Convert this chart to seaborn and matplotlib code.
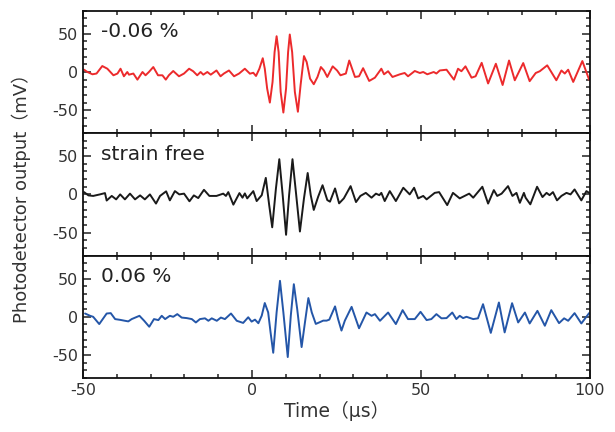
import numpy as np
import pandas as pd
import seaborn as sns
import matplotlib
matplotlib.use("Agg")
import matplotlib.pyplot as plt
from matplotlib.ticker import MultipleLocator

# strain -0.06 % (red)
t_neg = [-49.7, -48.7, -47.2, -46.0, -44.3, -42.8, -41.0, -39.8, -38.9, -37.9, -36.9, -36.4, -35.1, -33.9,
         -32.4, -31.5, -30.5, -29.2, -27.8, -26.5, -25.5, -24.6, -23.3, -21.6, -20.1, -18.6, -17.4, -16.2,
         -15.2, -14.4, -13.2, -12.2, -10.5, -9.3, -8.3, -6.8, -5.3, -3.8, -2.1, -0.6, 0.4, 1.2, 2.2, 3.2,
         3.8, 4.5, 5.3, 6.1, 6.7, 7.3, 7.9, 8.5, 9.3, 10.1, 10.7, 11.2, 11.9, 12.7, 13.6, 14.4, 15.4,
         16.2, 17.2, 18.3, 19.4, 20.4, 21.3, 22.3, 23.9, 25.2, 26.2, 27.8, 28.8, 30.5, 31.7, 32.9, 34.7,
         36.4, 38.3, 39.1, 40.3, 41.6, 43.8, 45.2, 46.2, 48.2, 49.7, 50.7, 51.9, 53.8, 54.6, 55.6, 57.6,
         59.8, 61.0, 62.0, 63.2, 65.0, 66.2, 68.0, 69.9, 72.2, 74.2, 76.1, 77.8, 80.3, 82.2, 84.0, 85.2,
         87.4, 90.1, 91.6, 92.6, 93.6, 95.1, 97.8, 99.8]
v_neg = [3, 0, -3, -2, 7.8, 4.3, -4.3, -2, 4.3, -5.6, 0, -3.5, -2, -10,
         0, -4.3, 0, 6.5, -4.3, -4.3, -10, -4.3, 1.3, -5.6, -2, 4.3, 1, -4.3,
         0, -3.5, 0, -3.5, 2, -5.6, -2, 2, -5.6, -2, 4.3, -2.2, -1, -5.2, 4.3, 18,
         4.3, -21.6, -40, -13, 26, 46.8, 26, -26, -53, -21.6, 26, 49, 26, -26, -52, -17, 20.8,
         13, -8.7, -16, -6.5, 6.5, 2, -6.5, 7.4, 2, -4.3, -2, 15, -6.5, -5.6, 5, -11.7,
         -7.4, 4.3, -3, 1, -6.5, -3, -1.3, -5.6, 1.3, -1.3, 0, -3, 0, -2, 2, 3,
         -10, 4.3, 1, 7.4, -7.4, -5.6, 12, -15, 10.8, -17, 15, -10.8, 11.7, -12, -1.3, 1,
         8.7, -10.8, 2, -2, 3, -13, 14.3, -10]

# strain free (black)
t_free = [-49.7, -48.4, -47.0, -45.0, -43.5, -43.0, -41.5, -40.2, -39.0, -37.6, -36.1, -34.6, -33.1, -31.7,
          -30.2, -28.4, -27.2, -25.4, -24.3, -22.8, -21.5, -20.1, -18.5, -17.2, -15.9, -14.2, -12.6, -10.5,
          -8.5, -7.7, -7.0, -5.5, -3.7, -2.8, -2.1, -1.4, -0.6, 0.4, 1.4, 2.9, 4.1, 5.1, 6.0, 7.1, 8.1,
          9.1, 10.1, 11.0, 12.0, 13.0, 14.2, 15.4, 16.5, 17.4, 18.3, 19.6, 20.9, 22.3, 23.1, 24.6, 25.8,
          27.2, 29.2, 30.8, 32.1, 33.7, 35.4, 36.7, 37.7, 38.3, 39.3,
          40.8, 42.6, 44.8, 46.7, 48.0, 49.2, 50.7, 51.7, 54.1, 55.4, 57.8, 59.5, 61.5, 64.3, 65.5, 68.2,
          69.9, 71.6, 72.6, 73.9, 75.8, 77.1, 78.3, 79.3, 80.5, 81.0, 82.4, 84.4, 86.0, 87.2, 88.1, 89.1,
          90.3, 91.6, 93.1, 94.3, 95.5, 97.5, 99.0, 99.8]
v_free = [3, -1.3, -2, 0, 1.7, -8, -2, -6.5, 0, -6.5, 1, -6.5, -1.3, -6.5,
          0, -12, -2, 4, -7.8, 4.3, 0, 1, -9, -1.3, -4.8, 6, -2, -2,
          1, -2, 3, -13.4, 1.7, -4.3, 1.3, -5.2, -1, 4.3, -8.7, -1, 21.6, -13.9, -43, 7.8, 46,
          -1, -52.8, -1, 46, 3.5, -48.5, -5.2, 28, -1, -20.3, -3, 12, -7.4, -9.5, 7.8, -11.7,
          -5.2, 10.8, -10, -2, 2, -4.3, 1, -1, 2, -8.7,
          4.3, -8.7, 8.7, 0, 8.7, -5.2, -2, -6.5, 2, 3, -14, 2, -5.2, 1, -4.3, 10,
          -12, 5.6, -2, 1, 10.8, -2, 2, -11, 2, -4.3, -13, 10, -3.5, 2, -1, 3,
          -7.8, -2, 2, 0, 6.5, -7.8, 4.3, 2]

# strain 0.06 % (blue)
t_pos = [-49.4, -47.9, -47.0, -45.2, -43.0, -41.8, -40.5, -39.0, -37.6, -36.6, -35.6, -33.3, -31.9, -30.4,
         -29.0, -27.7, -26.7, -25.7, -24.3, -23.3, -22.1, -20.8, -19.3, -17.8, -16.6, -15.4, -13.9, -12.9,
         -11.9, -10.4, -9.2, -8.0, -6.2, -4.5, -2.6, -1.1, -0.1, 0.9, 1.9, 2.9, 3.8, 4.8, 5.5, 6.3, 7.3,
         8.3, 9.3, 10.6, 11.5, 12.4, 13.4, 14.7, 15.7, 16.7, 17.7, 18.9, 20.1, 21.1, 22.1, 22.9, 24.6,
         25.5, 26.5, 27.5, 29.5, 31.7, 33.9, 35.4, 36.4, 37.9, 40.3, 42.6, 44.6,
         46.2, 48.2, 49.9, 51.7, 53.1, 54.6, 56.1, 57.6, 59.3, 60.5, 61.5, 62.5, 63.5, 65.5, 66.9, 68.4,
         70.7, 73.1, 74.8, 77.0, 78.8, 80.8, 82.2, 84.5, 86.7, 88.6, 90.9, 92.4, 93.6, 95.5, 97.5, 99.8]
v_pos = [4.3, 1.3, 0, -9.5, 4.3, 4.8, -3, -4, -5.2, -6, -3, 1.3, -5.2, -13,
         -3, -4.3, 1.3, -3, 1.3, 0, 3.5, -1, -1.7, -3, -7.4, -3, -2, -5.2,
         -2, -5.2, -1, -3, 4.3, -5.2, -8, -0.6, -6.3, -3.7, -8.4, 1.5, 18, 5.8, -20, -47, 5.8,
         47, 5.8, -52.6, 1.5, 42.6, 10, -39.6, -7, 24.5, 5.8, -9.3, -7, -5, -5, -3.7, 13.6,
         -3, -18, -5, 13, -15, 5.6, 1.3, 3.5, -5.2, 5.6, -9.5, 8.7,
         -3, -3, 6.5, -4.3, -3, 3.5, -2, -1.7, 5.6, -3, 1.3, -1.7, 0, -3, -2, 16.5,
         -21, 18.7, -20.4, 17.8, -7.4, 5.6, -8.7, 7.8, -11.7, 8.7, -8.3, -2, -5.2, 4.8, -8.7, 4.8]

labels = ["-0.06 %", "strain free", "0.06 %"]
colors = ["#ec2a2c", "#1a1a1a", "#2456a8"]
series = [(t_neg, v_neg), (t_free, v_free), (t_pos, v_pos)]

sns.set_theme(style="ticks")
plt.rcParams['font.family'] = ['DejaVu Sans', 'Noto Sans CJK JP']
plt.rcParams['axes.unicode_minus'] = False

fig, axes = plt.subplots(3, 1, figsize=(6.15, 4.32), dpi=100, sharex=True)
fig.subplots_adjust(left=0.135, right=0.959, top=0.975, bottom=0.125, hspace=0)

for ax, (t, v), lab, col in zip(axes, series, labels, colors):
    df = pd.DataFrame({'time': t, 'mV': v})
    sns.lineplot(data=df, x='time', y='mV', ax=ax, color=col, lw=1.4, estimator=None)
    ax.set_xlim(-50, 100)
    ax.set_ylim(-80, 80)
    ax.set_yticks([-50, 0, 50])
    ax.yaxis.set_minor_locator(MultipleLocator(10))
    ax.xaxis.set_major_locator(MultipleLocator(50))
    ax.xaxis.set_minor_locator(MultipleLocator(10))
    ax.tick_params(which='both', direction='in', top=True, right=True, width=1.1, colors='#222222',
                   labelsize=11.5, labelcolor='#333333')
    ax.tick_params(which='major', length=6)
    ax.tick_params(which='minor', length=3)
    for s in ax.spines.values():
        s.set_linewidth(1.3)
        s.set_color('#111111')
    ax.set_xlabel('')
    ax.set_ylabel('')
    ax.text(0.035, 0.83, lab, transform=ax.transAxes, fontsize=14.5, color='#222222', va='center')

axes[-1].set_xlabel('Time（µs）', fontsize=13.5, color='#333333', labelpad=2)
fig.text(0.035, 0.55, 'Photodetector output（mV）', rotation=90, fontsize=13, color='#333333',
         va='center', ha='center')

fig.savefig('out.png', dpi=100)
